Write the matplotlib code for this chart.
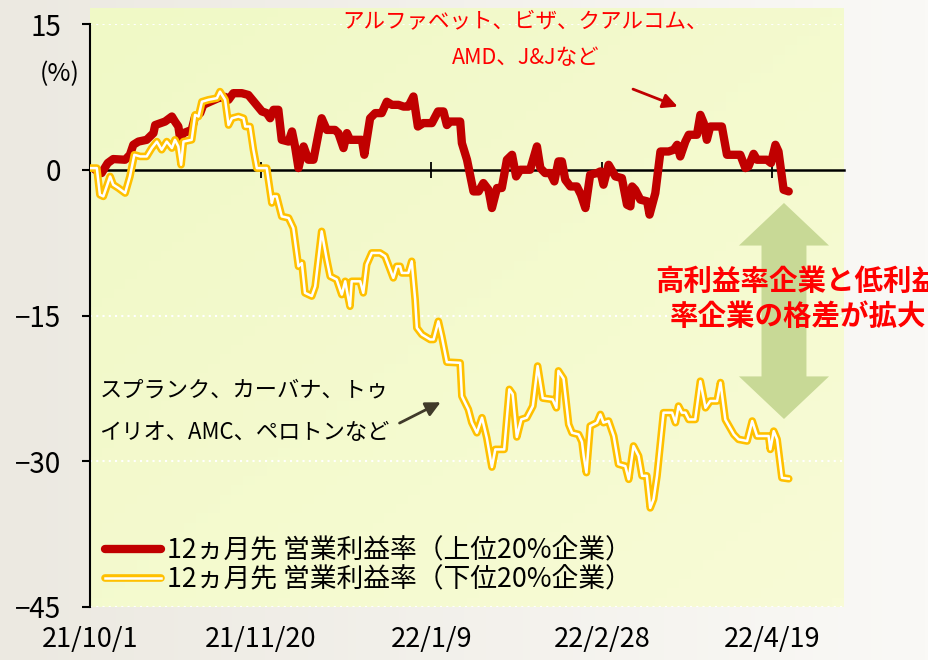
import numpy as np
import matplotlib
matplotlib.use("Agg")
import matplotlib.pyplot as plt
from matplotlib.legend_handler import HandlerTuple
from matplotlib.patches import Polygon

plt.rcParams['font.family'] = ['Noto Sans CJK JP', 'DejaVu Sans']

# x = days after 2021/10/1, y = change in 12m forward operating margin (%)
top_days = [1.5, 3.4, 5.2, 6.8, 10.3, 11.7, 12.7, 14.2, 16.6, 18.6, 19.1, 22.0, 24.0, 24.9,
            25.9, 26.4, 27.4, 29.8, 30.8, 32.3, 33.2, 35.2, 37.6, 39.6, 40.6, 42.0, 44.5,
            46.4, 48.4, 50.4, 51.8, 52.8, 53.8, 55.2, 56.2, 58.2, 59.2, 60.1, 61.1, 62.6,
            64.0, 65.5, 67.0, 67.9, 69.4, 71.8, 72.8, 74.3, 75.3, 76.2, 79.7, 80.4, 82.1,
            83.6, 85.5, 87.0, 88.5, 90.4, 91.9, 93.3, 94.8, 96.1, 97.7, 100.2, 102.0,
            103.6, 104.6, 105.6, 108.5, 109.0, 110.5, 112.4, 113.9, 115.3, 116.8, 117.8,
            119.3, 120.7, 122.2, 123.7, 124.9, 126.1, 129.0, 131.0, 132.0, 133.4, 134.9,
            136.1, 137.3, 138.3, 139.3, 140.8, 142.7, 143.9, 145.2, 146.6, 148.6, 149.6,
            150.5, 152.0, 154.0, 155.9, 157.4, 158.4, 158.9, 159.8, 161.3, 163.3, 164.0,
            165.7, 167.2, 169.6, 171.1, 172.1, 173.0, 174.5, 175.5, 177.9, 178.9, 179.9,
            180.8, 181.8, 185.2, 186.7, 190.6, 192.1, 193.0, 194.5, 195.5, 198.4, 199.6,
            200.9, 201.8, 203.3, 204.8]
top_vals = [0.0, -0.34, 0.69, 1.1, 1.03, 1.54, 2.57, 2.9, 3.08, 3.77, 4.6, 4.96, 5.48, 4.96,
            4.45, 3.25, 3.77, 4.1, 5.48, 5.83, 6.68, 7.0, 7.37, 7.5, 7.2, 7.88, 7.88,
            7.7, 6.85, 6.0, 5.83, 5.3, 6.17, 6.17, 3.08, 2.9, 3.94, 2.4, 0.17, 2.4,
            1.03, 1.03, 3.77, 5.3, 4.1, 4.1, 3.77, 2.23, 3.77, 3.08, 3.08, 1.54, 5.3,
            5.83, 5.83, 7.0, 6.68, 6.68, 6.5, 6.5, 7.54, 4.45, 4.8, 4.8, 6.0,
            6.0, 4.6, 4.96, 4.96, 2.74, 1.03, -2.23, -2.23, -1.37, -2.06, -3.94,
            -1.88, -1.88, 1.03, 1.54, -0.69, 0.0, 0.0, 2.4, 0.17, -0.34, -0.34,
            -1.2, 0.86, 0.86, -1.03, -1.72, -1.72, -2.57, -3.94, -0.51, -0.34, -0.17,
            -1.54, 0.51, -0.69, -0.86, -3.6, -3.77, -1.72, -2.06, -3.08, -3.25, -4.62,
            -2.4, 1.88, 1.88, 2.06, 2.57, 1.37, 2.9, 3.6, 3.6, 5.65, 4.8,
            3.08, 4.45, 4.45, 1.54, 1.54, 0.17, 0.34, 1.64, 1.03, 1.03, 0.69,
            2.57, 1.88, -2.06, -2.23]

low_days = [0.0, 2.0, 2.9, 3.9, 4.9, 5.9, 6.8, 8.3, 10.3, 11.7, 13.0, 14.7, 16.6, 18.1,
            19.6, 21.0, 22.5, 24.0, 24.9, 25.9, 26.7, 27.4, 29.8, 30.8, 31.8, 32.8, 34.7,
            37.2, 38.1, 39.6, 40.6, 41.6, 43.5, 45.0, 45.5, 46.9, 47.9, 48.9, 51.8, 53.3,
            53.7, 54.7, 56.2, 58.2, 59.6, 61.1, 62.1, 63.0, 65.0, 66.0, 67.9, 69.4, 70.4,
            72.3, 73.8, 74.8, 75.7, 76.2, 76.7, 79.2, 80.1, 81.1, 82.6, 85.0, 86.5, 88.0,
            88.9, 89.9, 90.9, 91.4, 93.3, 94.3, 95.3, 95.8, 97.3, 99.7, 100.7, 102.1,
            103.1, 104.6, 108.5, 109.0, 110.9, 111.9, 113.4, 114.9, 116.3, 117.8, 118.8,
            121.4, 122.9, 123.9, 125.1, 126.4, 128.0, 129.8, 131.2, 132.7, 135.6, 136.7,
            137.3, 138.8, 140.3, 141.3, 143.2, 144.2, 144.7, 145.5, 146.6, 148.6, 149.6,
            150.5, 152.0, 153.5, 154.9, 156.9, 157.9, 159.3, 160.8, 161.8, 163.2, 164.2,
            165.2, 166.2, 168.1, 170.6, 171.6, 172.5, 173.5, 174.5, 175.5, 177.4, 178.9,
            180.4, 181.8, 183.8, 184.8, 186.2, 188.7, 190.1, 192.6, 194.1, 195.5, 198.9,
            199.4, 200.4, 201.4, 202.8, 204.8]
low_vals = [0.17, 0.17, -2.57, -2.74, -1.72, -0.69, -1.54, -1.88, -2.4, -0.69, 1.54, 1.37,
            1.37, 2.23, 2.9, 2.06, 2.9, 2.23, 3.08, 2.4, 0.51, 2.9, 3.08, 5.65, 5.48, 7.0,
            7.2, 7.37, 8.04, 7.2, 4.6, 5.3, 5.48, 5.3, 4.45, 4.45, 2.06, 0.17, 0.17,
            -3.42, -2.74, -2.74, -4.8, -4.96, -6.0, -9.94, -9.6, -12.67, -13.0, -12.0,
            -6.34, -9.25, -10.97, -11.3, -12.85, -11.48, -13.2, -14.05, -11.48, -11.48,
            -12.67, -9.76, -8.56, -8.56, -8.9, -10.28, -11.13, -9.94, -9.94, -10.62,
            -10.62, -9.42, -13.36, -16.27, -16.96, -17.47, -17.47, -15.6, -17.13, -19.8,
            -19.87, -23.3, -24.67, -26.0, -27.07, -25.52, -27.6, -30.6, -28.78, -28.78,
            -22.6, -23.1, -27.5, -25.7, -25.52, -24.32, -20.2, -23.5, -23.64, -24.5,
            -20.7, -21.5, -26.2, -27.07, -27.24, -28.0, -29.46, -31.17, -26.38, -26.03,
            -25.18, -26.03, -25.86, -27.4, -30.3, -30.5, -31.86, -28.43, -29.46, -31.5,
            -31.5, -34.8, -33.9, -31.5, -25.0, -25.0, -26.03, -24.32, -25.0, -25.0,
            -25.7, -25.7, -21.76, -24.5, -23.8, -23.8, -21.9, -25.7, -27.24, -27.75,
            -27.92, -25.86, -27.4, -27.4, -28.78, -26.9, -27.75, -31.7, -31.8]

tick_days = [0, 50, 100, 150, 200]
tick_labels = ["21/10/1", "21/11/20", "22/1/9", "22/2/28", "22/4/19"]
y_ticks = [15, 0, -15, -30, -45]
grid_levels = [15, -15, -30, -45]

label_top = "12ヵ月先 営業利益率（上位20%企業）"
label_low = "12ヵ月先 営業利益率（下位20%企業）"

RED = "#C00000"
YEL = "#FFC000"
GREEN = "#C8D996"

fig = plt.figure(figsize=(9.29, 6.6), dpi=100)

# page background and plot area gradients
bg = fig.add_axes([0, 0, 1, 1], zorder=-2)
bg.axis('off')
t = np.linspace(0, 1, 256)
left_c = np.array([236, 233, 225]) / 255
right_c = np.array([250, 249, 246]) / 255
page = left_c[None, None, :] * (1 - t)[None, :, None] + right_c[None, None, :] * t[None, :, None]
page = np.repeat(page, 2, axis=0)
bg.imshow(page, extent=[0, 1, 0, 1], aspect='auto')
yy, xx = np.mgrid[0:1:64j, 0:1:64j]
s = (xx + yy) / 2
c1 = np.array([240, 249, 198]) / 255
c2 = np.array([248, 251, 214]) / 255
area = c1[None, None, :] * (1 - s)[..., None] + c2[None, None, :] * s[..., None]
bg.imshow(area, extent=[90 / 929, 844 / 929, 53 / 660, 652 / 660], aspect='auto')
bg.set_xlim(0, 1)
bg.set_ylim(0, 1)

ax = fig.add_axes([90 / 929, 53 / 660, 754 / 929, 583 / 660])
ax.set_facecolor('none')
ax.set_xlim(0, 221)
ax.set_ylim(-45, 15)

ax.set_yticks(y_ticks)
for lev in grid_levels:
    ax.axhline(lev, color='white', linestyle=(0, (1, 2)), lw=1.5, zorder=1)
for side in ['top', 'right', 'bottom']:
    ax.spines[side].set_visible(False)
ax.spines['left'].set_linewidth(1.5)
ax.tick_params(axis='y', direction='out', length=6, width=1.5, labelsize=20, pad=15)
ax.set_xticks(tick_days, tick_labels)
ax.tick_params(axis='x', length=0, labelsize=19.5, pad=14)

# zero line with date ticks
sec = ax.secondary_xaxis(0.75)
sec.set_xticks(tick_days[1:])
sec.tick_params(direction='inout', length=12, width=1.3, labeltop=False, labelbottom=False)
for sp in sec.spines.values():
    sp.set_linewidth(1.8)

l_red, = ax.plot(top_days, top_vals, color=RED, lw=6, solid_joinstyle='round',
                 solid_capstyle='round', zorder=3)
l_yel, = ax.plot(low_days, low_vals, color=YEL, lw=5.5, solid_joinstyle='round',
                 solid_capstyle='round', zorder=4)
l_wht, = ax.plot(low_days, low_vals, color='white', lw=1.8, solid_joinstyle='round', zorder=5)

# double-headed arrow
cx, top, bot = 0.9204, 0.693, 0.3225
hw, sw, hl = 0.0597, 0.0298, 0.073
arrow = Polygon([(cx, top), (cx + hw, top - hl), (cx + sw, top - hl), (cx + sw, bot + hl),
                 (cx + hw, bot + hl), (cx, bot), (cx - hw, bot + hl), (cx - sw, bot + hl),
                 (cx - sw, top - hl), (cx - hw, top - hl)],
                closed=True, transform=ax.transAxes, color=GREEN, zorder=2, lw=0)
ax.add_patch(arrow)

ax.text(-8.8, 9.8, "(%)", fontsize=18, ha='center', va='center')

ax.text(127.6, 15.3, "アルファベット、ビザ、クアルコム、", color='#FF0000', fontsize=15.5,
        ha='center', va='center')
ax.text(127.6, 11.5, "AMD、J&Jなど", color='#FF0000', fontsize=15.5, ha='center', va='center')
ax.annotate("", xy=(173.0, 6.4), xytext=(158.4, 8.4),
            arrowprops=dict(arrowstyle='-|>', color=RED, lw=2, mutation_scale=22))

ax.text(45.2, -22.7, "スプランク、カーバナ、トゥ", fontsize=16, ha='center', va='center')
ax.text(45.2, -27.0, "イリオ、AMC、ペロトンなど", fontsize=16, ha='center', va='center')
ax.annotate("", xy=(103.5, -23.8), xytext=(90.0, -26.2),
            arrowprops=dict(arrowstyle='-|>', color='#403A2A', lw=2, mutation_scale=22))

ax.text(207.5, -11.5, "高利益率企業と低利益", color='#FF0000', fontsize=20.5,
        fontweight='bold', ha='center', va='center', zorder=6)
ax.text(207.5, -15.2, "率企業の格差が拡大", color='#FF0000', fontsize=20.5,
        fontweight='bold', ha='center', va='center', zorder=6)

ax.legend([l_red, (l_yel, l_wht)], [label_top, label_low],
          handler_map={tuple: HandlerTuple(ndivide=1)},
          loc='center left', bbox_to_anchor=(0.02, 0.0712), frameon=False,
          fontsize=19.3, handlelength=2.1, handletextpad=0.2, labelspacing=0.05,
          borderpad=0, borderaxespad=0)

fig.savefig("out.png", dpi=100)
